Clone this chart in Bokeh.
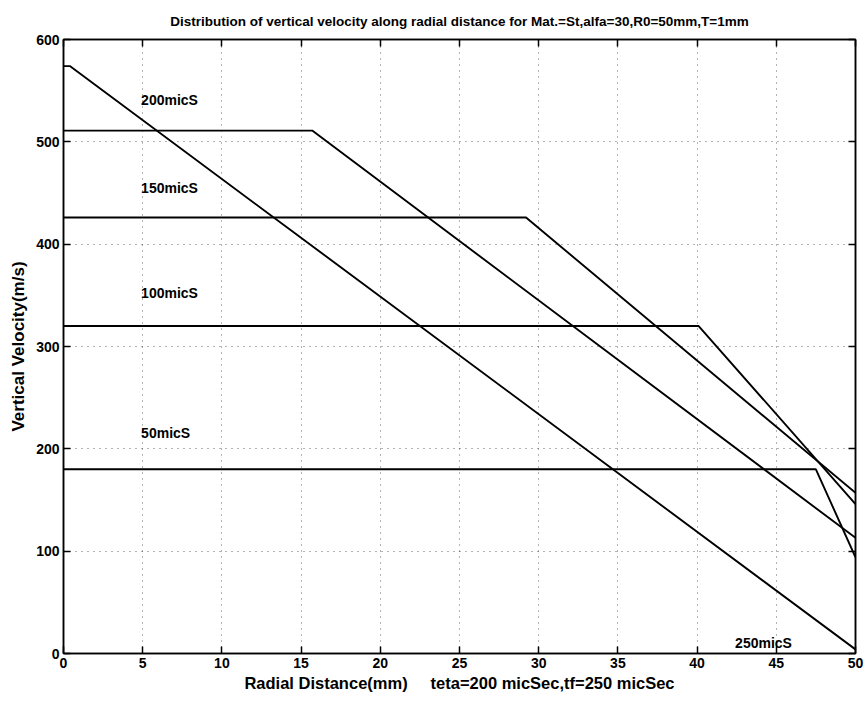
from bokeh.plotting import figure
from bokeh.models import Range1d, LinearAxis, FixedTicker, ColumnDataSource
from bokeh.core.properties import value
from bokeh.embed import file_html
from bokeh.resources import INLINE

# Radial distance (mm) and vertical velocity (m/s) for each time step
r_50 = [0, 47.5, 50]
v_50 = [180, 180, 94]
r_100 = [0, 40.1, 50]
v_100 = [320, 320, 146]
r_150 = [0, 29.2, 50]
v_150 = [426, 426, 157]
r_200 = [0, 15.7, 50]
v_200 = [511, 511, 113]
r_250 = [0, 0.4, 50]
v_250 = [574, 574, 4]

series_labels = ["50micS", "100micS", "150micS", "200micS", "250micS"]
label_r = [4.9, 4.9, 4.9, 4.9, 42.4]
label_v = [215, 352, 455, 541, 10]

x_ticks = [0, 5, 10, 15, 20, 25, 30, 35, 40, 45, 50]
y_ticks = [0, 100, 200, 300, 400, 500, 600]

FONT = "Liberation Sans"

p = figure(
    width=867, height=701,
    output_backend="svg", toolbar_location=None,
    x_range=Range1d(0, 50), y_range=Range1d(0, 600),
    min_border_left=63, min_border_right=12,
    min_border_top=39, min_border_bottom=48,
    title="Distribution of vertical velocity along radial distance for Mat.=St,alfa=30,R0=50mm,T=1mm",
)
p.background_fill_color = "white"
p.border_fill_color = "white"
p.outline_line_color = "black"
p.outline_line_width = 1.5

p.title.align = "center"
p.title.text_font = FONT
p.title.text_font_style = "bold"
p.title.text_font_size = "13.5px"
p.title.text_line_height = 1.0
p.title.text_color = "black"
p.title.standoff = 22

def style_axis(ax, ticks, show_labels):
    ax.ticker = FixedTicker(ticks=ticks)
    ax.major_tick_in = 7
    ax.major_tick_out = 0
    ax.minor_tick_line_color = None
    ax.axis_line_color = "black"
    ax.axis_line_width = 1.5
    ax.major_tick_line_color = "black"
    ax.major_tick_line_width = 1.5
    if show_labels:
        ax.major_label_text_font = FONT
        ax.major_label_text_font_style = "bold"
        ax.major_label_text_font_size = "14px"
        ax.major_label_text_color = "black"
        ax.major_label_standoff = 4
        ax.axis_label_text_font = FONT
        ax.axis_label_text_font_style = "bold"
        ax.axis_label_text_color = "black"
    else:
        # tick marks only on the opposite sides of the box
        ax.major_label_text_color = None
        ax.major_label_text_font_size = "1px"
        ax.major_label_standoff = 0

style_axis(p.xaxis[0], x_ticks, True)
style_axis(p.yaxis[0], y_ticks, True)
p.xaxis[0].axis_label = "Radial Distance(mm)\u00a0\u00a0\u00a0\u00a0\u00a0teta=200 micSec,tf=250 micSec"
p.xaxis[0].axis_label_text_font_size = "16.5px"
p.xaxis[0].axis_label_standoff = 3
p.yaxis[0].axis_label = "Vertical Velocity(m/s)"
p.yaxis[0].axis_label_text_font_size = "17px"
p.yaxis[0].axis_label_standoff = 5

top_axis = LinearAxis()
style_axis(top_axis, x_ticks, False)
p.add_layout(top_axis, "above")
right_axis = LinearAxis()
style_axis(right_axis, y_ticks, False)
p.add_layout(right_axis, "right")

for g in (p.xgrid, p.ygrid):
    g.grid_line_color = "black"
    g.grid_line_dash = "1 5"
    g.grid_line_alpha = 0.6
    g.grid_line_width = 1

for r, v in ((r_50, v_50), (r_100, v_100), (r_150, v_150), (r_200, v_200), (r_250, v_250)):
    p.line(r, v, line_color="black", line_width=1.9)

src = ColumnDataSource(dict(x=label_r, y=label_v, text=series_labels))
p.text(x="x", y="y", text="text", source=src,
       text_font=value(FONT), text_font_style="bold", text_font_size="14px",
       text_color="black", text_baseline="middle", text_align="left")

open("out.html", "w").write(file_html(p, INLINE))
